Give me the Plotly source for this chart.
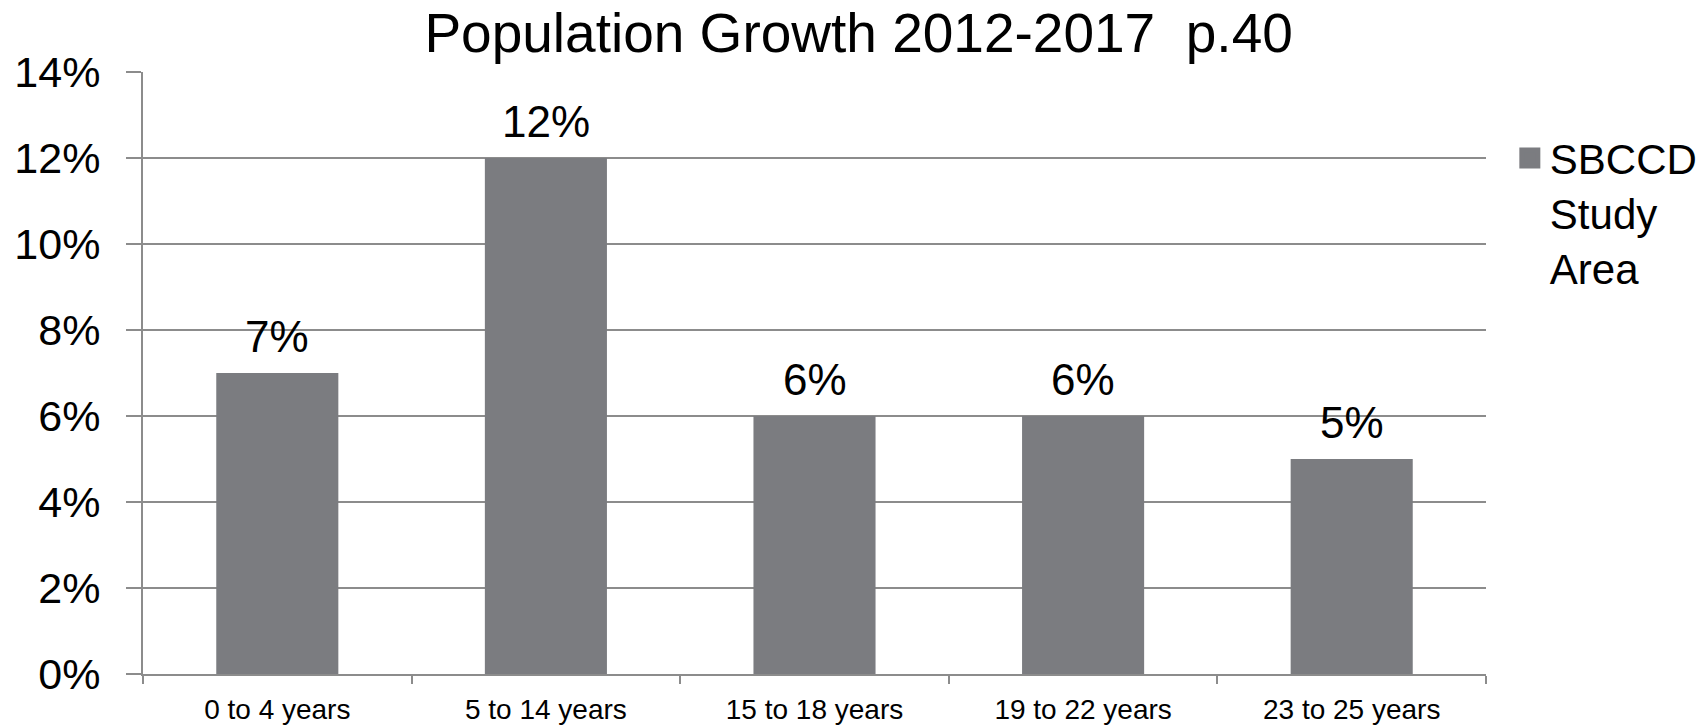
import plotly.graph_objects as go

categories = ["0 to 4 years", "5 to 14 years", "15 to 18 years", "19 to 22 years", "23 to 25 years"]
growth = [0.07, 0.12, 0.06, 0.06, 0.05]
labels = ["7%", "12%", "6%", "6%", "5%"]
series_name = "SBCCD<br>Study<br>Area"
y_ticks = [0, 0.02, 0.04, 0.06, 0.08, 0.10, 0.12, 0.14]

BAR = "#7b7c80"
GRID = "#8c8c8c"
FONT = "Liberation Sans, Arial, sans-serif"

fig = go.Figure()
fig.add_trace(go.Bar(
    x=categories, y=growth, name=series_name, showlegend=False,
    marker=dict(color=BAR, line=dict(width=0)),
))
# legend entry with a larger square swatch
fig.add_trace(go.Scatter(
    x=[None], y=[None], mode="markers", name=series_name,
    marker=dict(symbol="square", size=16, color=BAR, line=dict(width=5, color=BAR)),
))
for cat, val, lab in zip(categories, growth, labels):
    fig.add_annotation(x=cat, y=val, text=lab, showarrow=False,
                       xanchor="center", yanchor="bottom", yshift=10,
                       font=dict(family=FONT, size=44, color="black"))

fig.update_layout(
    width=1707, height=726,
    margin=dict(l=143, r=221, t=72, b=52),
    paper_bgcolor="white", plot_bgcolor="white",
    bargap=0.5455,
    font=dict(family=FONT, color="black"),
    title=dict(text="Population Growth 2012-2017 \u00a0p.40", x=0.503, xanchor="center",
               xref="container", y=0.955, yref="container", yanchor="middle",
               font=dict(family=FONT, size=55, color="black")),
    showlegend=True,
    legend=dict(x=0.8845, y=0.829, xref="container", yref="container",
                xanchor="left", yanchor="top", valign="top",
                font=dict(family=FONT, size=42, color="black"),
                bgcolor="rgba(0,0,0,0)"),
)
fig.update_xaxes(
    type="category", showline=True, linecolor=GRID, linewidth=2,
    ticks="outside", ticklen=8, tickcolor=GRID, tickwidth=2, tickson="boundaries",
    showgrid=False, automargin=False, ticklabelstandoff=9,
    tickfont=dict(family=FONT, size=28, color="black"),
)
fig.update_yaxes(
    range=[0, 0.14], tickvals=y_ticks, tickformat=".0%",
    showgrid=True, gridcolor=GRID, gridwidth=2,
    showline=True, linecolor=GRID, linewidth=2, zeroline=False,
    ticks="outside", ticklen=15, tickcolor=GRID, tickwidth=2,
    ticklabelstandoff=17, automargin=False,
    tickfont=dict(family=FONT, size=43, color="black"),
)

fig.write_html("out.html")
